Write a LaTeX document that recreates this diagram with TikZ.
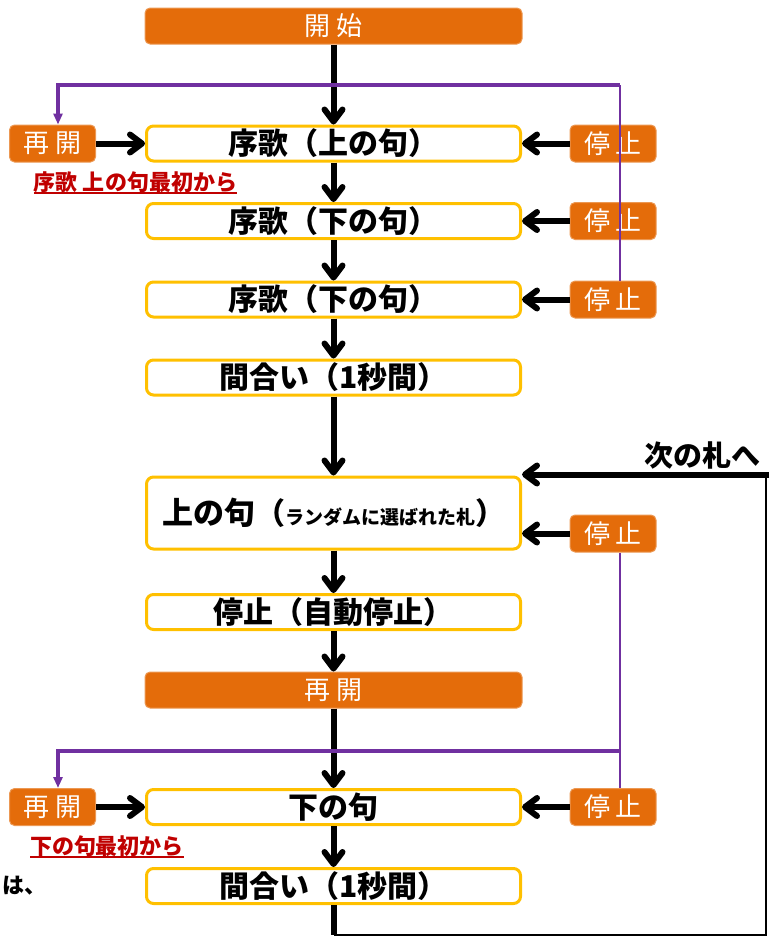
\documentclass[tikz,border=0pt]{standalone}
\usepackage{fontspec}
\setmainfont{Noto Sans CJK JP}
\usetikzlibrary{arrows.meta,positioning}
\definecolor{boxorange}{HTML}{E46C0A}
\definecolor{boxyellow}{HTML}{FFC000}
\definecolor{backpurple}{HTML}{7030A0}
\definecolor{notered}{HTML}{C00000}
\newcommand{\thickul}[1]{\setbox0\hbox{#1}\rlap{\rule[-4pt]{\wd0}{2pt}}\box0}

\begin{document}
\begin{tikzpicture}[x=1pt,y=-1pt,
    stepbox/.style={draw=boxyellow, line width=3pt, rounded corners=7pt, fill=white,
      minimum width=374pt, minimum height=35pt, inner sep=0pt,
      font=\bfseries\fontsize{30}{32}\selectfont},
    endbox/.style={draw=boxorange!70!white, line width=1pt, fill=boxorange, rounded corners=5pt,
      minimum width=377pt, minimum height=36pt, inner sep=0pt, text=white,
      font=\fontsize{26}{28}\selectfont},
    btn/.style={endbox, minimum width=86pt, minimum height=37pt},
    note/.style={text=notered, font=\bfseries\fontsize{22}{24}\selectfont},
    flow/.style={line width=6pt, -{Straight Barb[length=12pt,width=18pt,line cap=round,line join=round]}},
    backh/.style={draw=backpurple, line width=3.5pt},
    backv/.style={draw=backpurple, line width=2pt},
    backarrow/.style={backh, -{Triangle[length=11pt,width=9pt]}}]
    \useasboundingbox (0,0) rectangle (769,937);
    % main flow
    \node[endbox] at (333.5, 26) (start) {開\hspace{6pt}始};
    \node[stepbox] at (333.5, 143.5) (jo1) {序歌（上の句）};
    \node[stepbox] at (333.5, 221) (jo2) {序歌（下の句）};
    \node[stepbox] at (333.5, 299.5) (jo3) {序歌（下の句）};
    \node[stepbox] at (333.5, 377.5) (ma1) {間合い（1秒間）};
    \node[stepbox, minimum height=72pt] at (333.5, 513) (kami)
      {{\fontsize{31}{32}\selectfont 上の句}（{\fontsize{19}{22}\selectfont ランダムに選ばれた札}）};
    \node[stepbox] at (333.5, 612) (auto) {停止（自動停止）};
    \node[endbox] at (333.5, 690) (re) {再\hspace{6pt}開};
    \node[stepbox] at (333.5, 807) (shimo) {下の句};
    \node[stepbox] at (333.5, 886) (ma2) {間合い（1秒間）};
    % buttons
    \node[btn] at (52.5, 143.5) (rs1) {再\hspace{6pt}開};
    \node[btn] at (52.5, 807) (rs2) {再\hspace{6pt}開};
    \node[btn] at (613, 143.5) (st1) {停\hspace{6pt}止};
    \node[btn] at (613, 221) (st2) {停\hspace{6pt}止};
    \node[btn] at (613, 299.5) (st3) {停\hspace{6pt}止};
    \node[btn] at (613, 533.5) (st4) {停\hspace{6pt}止};
    \node[btn] at (613, 807) (st5) {停\hspace{6pt}止};
    % notes
    \node[note] at (135.5, 183) (n1) {\thickul{序歌 上の句最初から}};
    \node[note] at (107, 847) (n2) {\thickul{下の句最初から}};
    \node[font=\bfseries\fontsize{29}{30}\selectfont] at (702, 455) (nextlbl) {次の札へ};
    \node[font=\bfseries\fontsize{22}{24}\selectfont] at (24, 886) (wa) {は、};
    \coordinate (backtop) at (58, 85);
    \coordinate (backbot) at (58, 751);
    \coordinate (loopa) at (333.5, 935);
    \coordinate (loopc) at (766, 474.5);

    \draw[flow] (start) -- (jo1);
    \draw[flow] (jo1) -- (jo2);
    \draw[flow] (jo2) -- (jo3);
    \draw[flow] (jo3) -- (ma1);
    \draw[flow] (ma1) -- (kami);
    \draw[flow] (kami) -- (auto);
    \draw[flow] (auto) -- (re);
    \draw[flow] (re) -- (shimo);
    \draw[flow] (shimo) -- (ma2);
    \draw[flow] (rs1) -- (jo1);
    \draw[flow] (rs2) -- (shimo);
    \draw[flow] (st1) -- (jo1);
    \draw[flow] (st2) -- (jo2);
    \draw[flow] (st3) -- (jo3);
    \draw[flow] (st4) -- (st4 -| kami.east);
    \draw[flow] (st5) -- (shimo);
    % next card
    \draw[line width=6pt] (ma2) -- (loopa);
    \draw[line width=2pt] (loopa) -| (loopc);
    \draw[flow] ([xshift=3pt]loopc) -- (loopc -| kami.east);
    % back to restart
    \draw[backv] ([xshift=7pt]st3.north) -- ([xshift=7pt]st3.north |- backtop);
    \draw[backarrow] ([xshift=7pt]st3.north |- backtop) -- (backtop) -- ([xshift=5.5pt]rs1.north);
    \draw[backv] ([xshift=7pt]st4.south) -- ([xshift=7pt]st5.north);
    \draw[backarrow] ([xshift=7pt]st5.north |- backbot) -- (backbot) -- ([xshift=5.5pt]rs2.north);
\end{tikzpicture}
\end{document}
